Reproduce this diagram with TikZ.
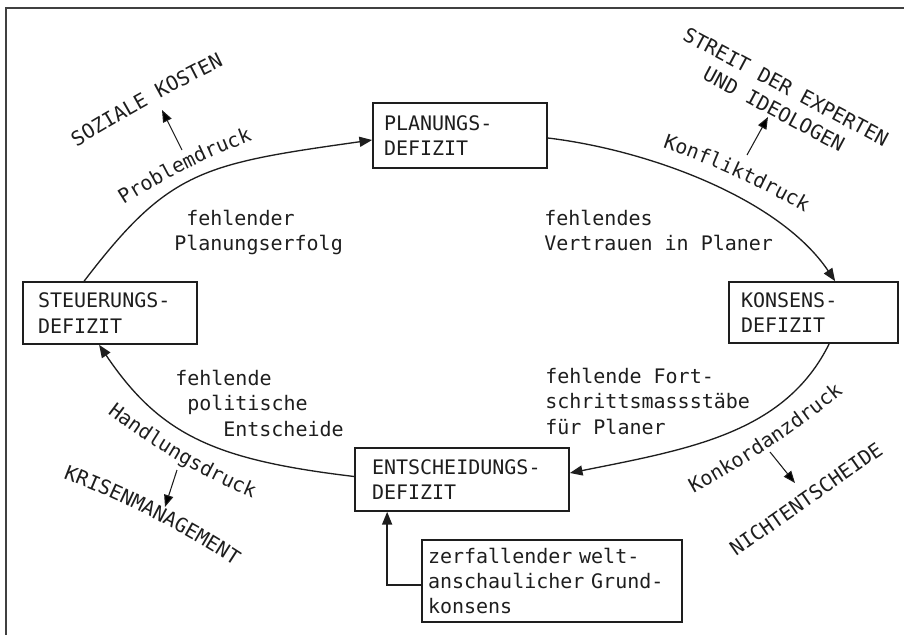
\documentclass[tikz,border=0pt]{standalone}
\usepackage{fontspec}
\setmainfont[WordSpace={1,0,0}]{DejaVu Sans Mono}
\usetikzlibrary{arrows.meta,calc,decorations.text}
\definecolor{ink}{RGB}{30,30,30}
\begin{document}
\begin{tikzpicture}[x=0.75pt,y=-0.75pt,
  every node/.style={text=ink},
  box/.style={draw=ink, line width=1.3pt, rectangle, align=left, inner ysep=0pt},
  lbl/.style={anchor=north west, inner sep=0pt, align=left},
  arc/.style={draw=ink, line width=1pt, -{Triangle[length=9.5pt,width=7.5pt]}},
  small/.style={draw=ink, line width=0.8pt, -{Triangle[length=9pt,width=7pt]}},
  curvelbl/.style={decorate, decoration={text along path, text align=center, text color=ink, text={#1}}},
  frame/.style={draw=ink!85, line width=1.5pt}]
\fontsize{15pt}{19pt}\selectfont
\useasboundingbox (0,0) rectangle (904,635);
% frame
\coordinate (f1) at (6,8); \coordinate (f2) at (904,8); \coordinate (f3) at (6,635);
\draw[frame] (f2) -- (f1) -- (f3);
% boxes
\node[box, minimum height=48.75pt, text width=114pt, inner xsep=8.25pt] (plan) at (460,135.5) {\mbox{PLANUNGS-}\\\mbox{DEFIZIT}};
\node[box, minimum height=46.5pt, text width=108pt, inner xsep=11.25pt] (steu) at (110,313) {\mbox{STEUERUNGS-}\\\mbox{DEFIZIT}};
\node[box, minimum height=45.75pt, text width=108.75pt, inner xsep=9pt] (kons) at (813.5,312.5) {\mbox{KONSENS-}\\\mbox{DEFIZIT}};
\node[box, minimum height=47.25pt, text width=135pt, inner xsep=12.75pt] (ent) at (462,479.5) {\mbox{ENTSCHEIDUNGS-}\\\mbox{DEFIZIT}};
\node[box, minimum height=61.5pt, text width=186pt, inner xsep=4.5pt] (zerf) at (552,581) {\mbox{zerfallender welt-}\\\mbox{anschaulicher Grund-}\\\mbox{konsens}};
% inner labels
\node[lbl] (t1) at (174,210) {\hspace*{9pt}fehlender\\Planungserfolg};
\node[lbl] (t2) at (544,210) {fehlendes\\Vertrauen in Planer};
\node[lbl] (t3) at (175,370) {fehlende\\\hspace*{9pt}politische\\\hspace*{36pt}Entscheide};
\node[lbl] (t4) at (545,368) {fehlende Fort-\\schrittsmassst\"abe\\f\"ur Planer};
% main cycle
\draw[arc] ($(steu.north west)+(62,0)$) .. controls (169,170) and (202,164) .. ($(plan.west)+(0,4.5)$);
\draw[arc] ($(plan.east)+(0,2.5)$) .. controls (648,150) and (779,198) .. ($(kons.north west)+(107,0)$);
\draw[arc] ($(kons.south west)+(101,0)$) .. controls (785,433) and (690,449) .. ($(ent.east)+(0,-6.5)$);
\draw[arc] ($(ent.west)+(0,-3)$) .. controls (216,460) and (160.5,436) .. ($(steu.south west)+(77,0)$);
\draw[arc] ($(zerf.west)+(0,4)$) -| ($(ent.south west)+(33,0)$);
% curved labels
\path[curvelbl={Problemdruck}] (106.5,216.2) .. controls (158.2,181.1) and (213.3,153.5) .. (271.9,133.6);
\path[curvelbl={SOZIALE KOSTEN}] (59.5,157.7) .. controls (118.3,120.3) and (179.1,86.6) .. (242,56.6);
\path[curvelbl={Konfliktdruck}] (643.6,141.6) .. controls (706.5,161.5) and (766,188.4) .. (822.1,222.4);
\path[curvelbl={Handlungsdruck}] (94,403) .. controls (146.9,445.7) and (205,479.5) .. (268.3,504.3);
\path[curvelbl={KRISENMANAGEMENT}] (49.5,473.2) .. controls (119.3,498.5) and (185,532) .. (246.6,573.6);
\path[curvelbl={Konkordanzdruck}] (676.1,503) .. controls (741.5,468.8) and (802.4,427.8) .. (858.7,380.1);
\node[rotate=35, inner sep=0pt] (nicht) at (806,499) {NICHTENTSCHEIDE};
\node[rotate=-28, align=center, inner sep=0pt] (streit) at (780,98) {STREIT DER EXPERTEN\\UND IDEOLOGEN};
% small arrows
\coordinate (a1s) at (182,150); \coordinate (a1e) at (162,110);
\coordinate (a2s) at (747,155); \coordinate (a2e) at (768,117);
\coordinate (a3s) at (177,470); \coordinate (a3e) at (165,507);
\coordinate (a4s) at (770,452); \coordinate (a4e) at (795,483);
\draw[small] (a1s) -- (a1e);
\draw[small] (a2s) -- (a2e);
\draw[small] (a3s) -- (a3e);
\draw[small] (a4s) -- (a4e);
\end{tikzpicture}
\end{document}
